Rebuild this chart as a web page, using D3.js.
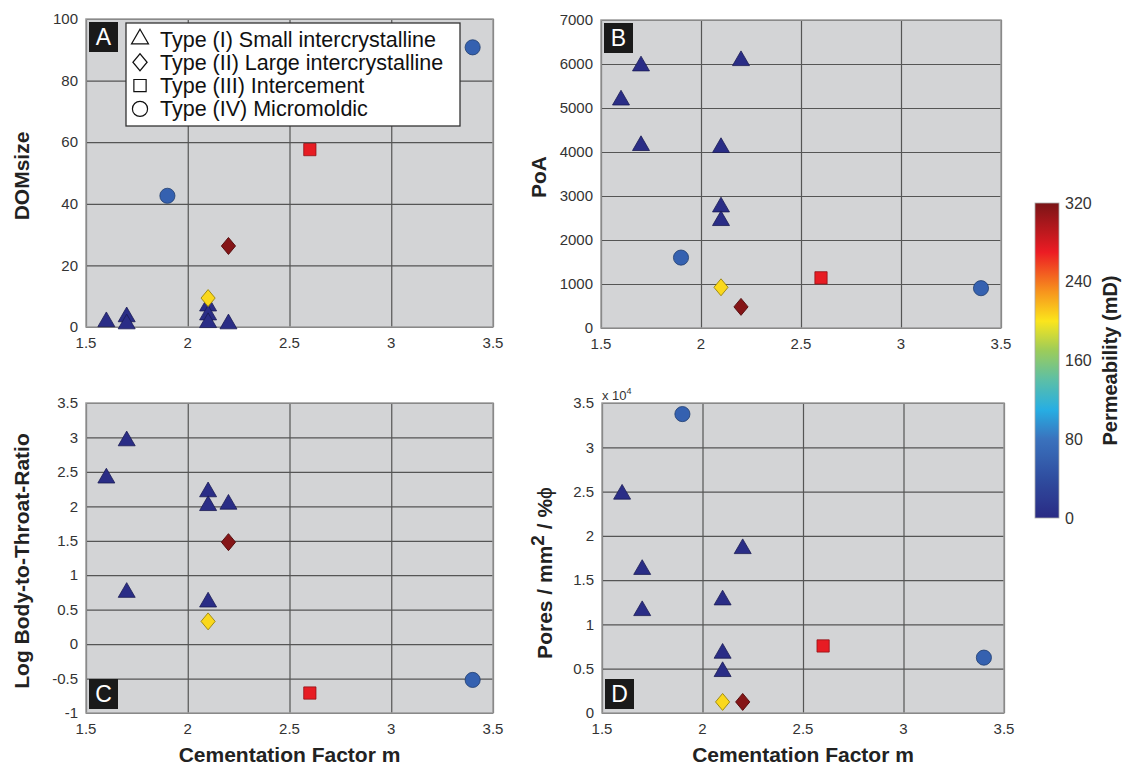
<!DOCTYPE html>
<html>
<head>
<meta charset="utf-8">
<script src="https://cdn.jsdelivr.net/npm/d3@7"></script>
<style>
  body { margin: 0; background: #fff; }
  svg { display: block; font-family: "Liberation Sans", Arial, sans-serif; }
</style>
</head>
<body>
<script>
// ---- data ----
const xTicks = [1.5, 2, 2.5, 3, 3.5]

// Type (I) small intercrystalline  (triangles)
const typeI_m     = [1.6, 1.7, 1.7, 2.1, 2.1, 2.1, 2.2]
const typeI_dom   = [1.7, 3.3, 1.0, 6.8, 3.9, 1.4, 1.0]
const typeI_poa   = [5180, 5955, 4145, 4100, 2750, 2440, 6075]
const typeI_btr   = [2.41, 2.95, 0.75, 2.21, 2.01, 0.61, 2.03]
const typeI_pores = [24700, 16200, 11550, 12760, 6740, 4670, 18550]
const typeI_perm  = [3, 3, 3, 3, 3, 3, 3]

// Type (II) large intercrystalline  (diamonds)
const typeII_m     = [2.1, 2.2]
const typeII_dom   = [9.4, 26.3]
const typeII_poa   = [925, 480]
const typeII_btr   = [0.33, 1.48]
const typeII_pores = [1250, 1250]
const typeII_perm  = [205, 315]

// Type (III) intercement  (square)
const typeIII_m     = [2.6]
const typeIII_dom   = [57.6]
const typeIII_poa   = [1140]
const typeIII_btr   = [-0.71]
const typeIII_pores = [7570]
const typeIII_perm  = [272]

// Type (IV) micromoldic  (circles)
const typeIV_m     = [1.9, 3.4]
const typeIV_dom   = [42.6, 90.8]
const typeIV_poa   = [1600, 905]
const typeIV_btr   = [null, -0.52]
const typeIV_pores = [33750, 6250]
const typeIV_perm  = [62, 62]

const legendLabels = [
  "Type (I) Small intercrystalline",
  "Type (II) Large intercrystalline",
  "Type (III) Intercement",
  "Type (IV) Micromoldic"
]
const permTicks = [0, 80, 160, 240, 320]

// ---- build sample table ----
const groups = [
  {shape: "triangle", m: typeI_m, dom: typeI_dom, poa: typeI_poa, btr: typeI_btr, pores: typeI_pores, perm: typeI_perm},
  {shape: "circle", m: typeIV_m, dom: typeIV_dom, poa: typeIV_poa, btr: typeIV_btr, pores: typeIV_pores, perm: typeIV_perm},
  {shape: "square", m: typeIII_m, dom: typeIII_dom, poa: typeIII_poa, btr: typeIII_btr, pores: typeIII_pores, perm: typeIII_perm},
  {shape: "diamond", m: typeII_m, dom: typeII_dom, poa: typeII_poa, btr: typeII_btr, pores: typeII_pores, perm: typeII_perm}
]
const samples = []
groups.forEach(g => g.m.forEach((m, i) => samples.push({
  shape: g.shape, m, dom: g.dom[i], poa: g.poa[i], btr: g.btr[i], pores: g.pores[i], perm: g.perm[i]
})))

// jet-like colour map used in the figure
const cmap = d3.scaleLinear()
    .domain([0, 40, 80, 110, 140, 170, 200, 230, 270, 320])
    .range(["#2a2a84", "#2f4d9f", "#3a72bd", "#27aee3", "#5cbfa7", "#9ccc5a", "#fbe51c", "#f7941d", "#ec1c24", "#7a1416"])
    .clamp(true)

const svg = d3.select("body").append("svg")
    .attr("width", 1125).attr("height", 765)

const panels = [
  {id: "A", key: "dom", title: "DOMsize", left: 86, top: 19, w: 407, h: 308, yDom: [0, 100], yTicks: d3.range(0, 101, 20), fmt: d => String(d), labelPos: "top", titleX: 22},
  {id: "B", key: "poa", title: "PoA", left: 601, top: 20, w: 400, h: 308, yDom: [0, 7000], yTicks: d3.range(0, 7001, 1000), fmt: d => String(d), labelPos: "top", titleX: 539},
  {id: "C", key: "btr", title: "Log Body-to-Throat-Ratio", left: 86, top: 403, w: 407, h: 310, yDom: [-1, 3.5], yTicks: d3.range(-1, 3.51, 0.5), fmt: d => String(+d.toFixed(1)), labelPos: "bottom", titleX: 22},
  {id: "D", key: "pores", title: null, left: 602, top: 403, w: 402, h: 310, yDom: [0, 35000], yTicks: d3.range(0, 35001, 5000), fmt: d => String(d / 1e4), labelPos: "bottom", titleX: 545}
]

const symbol = {
  triangle: d3.symbol().type(d3.symbolTriangle).size(125),
  circle: d3.symbol().type(d3.symbolCircle).size(180),
  square: d3.symbol().type(d3.symbolSquare).size(150),
  diamond: d3.symbol().type(d3.symbolSquare).size(100)
}
// diamonds are squares turned 45° and stretched a little vertically
const shapeTf = s => s === "diamond" ? " scale(1,1.2) rotate(45)" : ""

panels.forEach(p => {
  const x = d3.scaleLinear().domain([1.5, 3.5]).range([0, p.w])
  const y = d3.scaleLinear().domain(p.yDom).range([p.h, 0])
  const g = svg.append("g").attr("transform", `translate(${p.left},${p.top})`)

  g.append("rect").attr("width", p.w).attr("height", p.h).attr("fill", "#d3d4d6")

  // grid via axes
  g.append("g").attr("transform", `translate(0,${p.h})`)
    .call(d3.axisBottom(x).tickValues(xTicks).tickSize(-p.h).tickFormat(""))
    .call(a => a.select(".domain").remove())
    .selectAll("line").attr("stroke", "#555").attr("stroke-width", 1.2)
  g.append("g")
    .call(d3.axisLeft(y).tickValues(p.yTicks).tickSize(-p.w).tickFormat(""))
    .call(a => a.select(".domain").remove())
    .selectAll("line").attr("stroke", "#555").attr("stroke-width", 1.2)

  g.append("rect").attr("width", p.w).attr("height", p.h)
    .attr("fill", "none").attr("stroke", "#9a9a9a").attr("stroke-width", 1.5)

  // tick labels
  g.append("g").selectAll("text").data(xTicks).join("text")
    .attr("x", d => x(d)).attr("y", p.h + 21)
    .attr("text-anchor", "middle").attr("font-size", 15).attr("fill", "#333")
    .text(d => String(d))
  g.append("g").selectAll("text").data(p.yTicks).join("text")
    .attr("x", -8).attr("y", d => y(d)).attr("dy", "0.35em")
    .attr("text-anchor", "end").attr("font-size", 15).attr("fill", "#333")
    .text(p.fmt)

  // markers
  g.append("g").selectAll("path")
    .data(samples.filter(s => s[p.key] != null))
    .join("path")
      .attr("transform", d => `translate(${x(d.m)},${y(d[p.key])})` + shapeTf(d.shape))
      .attr("d", d => symbol[d.shape]())
      .attr("fill", d => cmap(d.perm))
      .attr("stroke", d => d3.color(cmap(d.perm)).darker(1.3))
      .attr("stroke-width", 0.8)

  // panel letter
  const ly = p.labelPos === "top" ? 3 : p.h - 34
  g.append("rect").attr("x", 3).attr("y", ly).attr("width", 29).attr("height", 30).attr("fill", "#1a1a1a")
  g.append("text").attr("x", 17.5).attr("y", ly + 15).attr("dy", "0.36em")
    .attr("text-anchor", "middle").attr("font-size", 23).attr("fill", "#fff").text(p.id)

  // y title
  const ty = p.top + p.h / 2 + (p.id === "D" ? 15 : 3)
  const t = svg.append("text")
    .attr("transform", `translate(${p.titleX},${ty}) rotate(-90)`)
    .attr("dy", "0.35em").attr("text-anchor", "middle")
    .attr("font-size", 21).attr("font-weight", "bold").attr("fill", "#222")
  if (p.title) t.text(p.title)
  else {
    t.append("tspan").text("Pores / mm")
    t.append("tspan").attr("dy", -8).attr("font-size", 19).text("2")
    t.append("tspan").attr("dy", 8).text(" / %")
    t.append("tspan").attr("font-weight", "normal").text("ϕ")
  }

  if (p.labelPos === "bottom") {
    svg.append("text").attr("x", p.left + p.w / 2).attr("y", 762)
      .attr("text-anchor", "middle").attr("font-size", 21).attr("font-weight", "bold").attr("fill", "#222")
      .text("Cementation Factor m")
  }
})

// x 10^4 multiplier on panel D
const mult = svg.append("text").attr("x", 602).attr("y", 400).attr("font-size", 13).attr("fill", "#333")
mult.append("tspan").text("x 10")
mult.append("tspan").attr("dy", "-6").attr("font-size", 9).text("4")

// legend in panel A
const lg = svg.append("g").attr("transform", "translate(126,23)")
lg.append("rect").attr("width", 334).attr("height", 103)
  .attr("fill", "#fff").attr("stroke", "#333").attr("stroke-width", 1.3)
const legendShapes = ["triangle", "diamond", "square", "circle"]
legendLabels.forEach((lab, i) => {
  const cy = 16 + i * 23.3
  lg.append("path")
    .attr("transform", `translate(14,${cy})` + shapeTf(legendShapes[i]))
    .attr("d", symbol[legendShapes[i]]())
    .attr("fill", "none").attr("stroke", "#111").attr("stroke-width", 1.2)
  lg.append("text").attr("x", 34).attr("y", cy).attr("dy", "0.35em")
    .attr("font-size", 21.5).attr("fill", "#111").text(lab)
})

// colour bar
const cb = {x: 1035, y: 203, w: 24, h: 315}
const cy = d3.scaleLinear().domain([0, 320]).range([cb.y + cb.h, cb.y])
const grad = svg.append("defs").append("linearGradient").attr("id", "jet")
  .attr("x1", 0).attr("y1", 1).attr("x2", 0).attr("y2", 0)
grad.selectAll("stop").data(d3.range(0, 321, 10)).join("stop")
  .attr("offset", d => d / 320).attr("stop-color", d => cmap(d))
svg.append("rect").attr("x", cb.x).attr("y", cb.y).attr("width", cb.w).attr("height", cb.h)
  .attr("fill", "url(#jet)").attr("stroke", "#aaa").attr("stroke-width", 0.8)
svg.append("g").selectAll("text").data(permTicks).join("text")
  .attr("x", cb.x + cb.w + 6).attr("y", d => cy(d)).attr("dy", "0.35em")
  .attr("font-size", 16).attr("fill", "#333").text(d => d)
svg.append("text")
  .attr("transform", `translate(1110,${cb.y + cb.h / 2}) rotate(-90)`)
  .attr("dy", "0.35em").attr("text-anchor", "middle")
  .attr("font-size", 20).attr("font-weight", "bold").attr("fill", "#222")
  .text("Permeability (mD)")
</script>
</body>
</html>
